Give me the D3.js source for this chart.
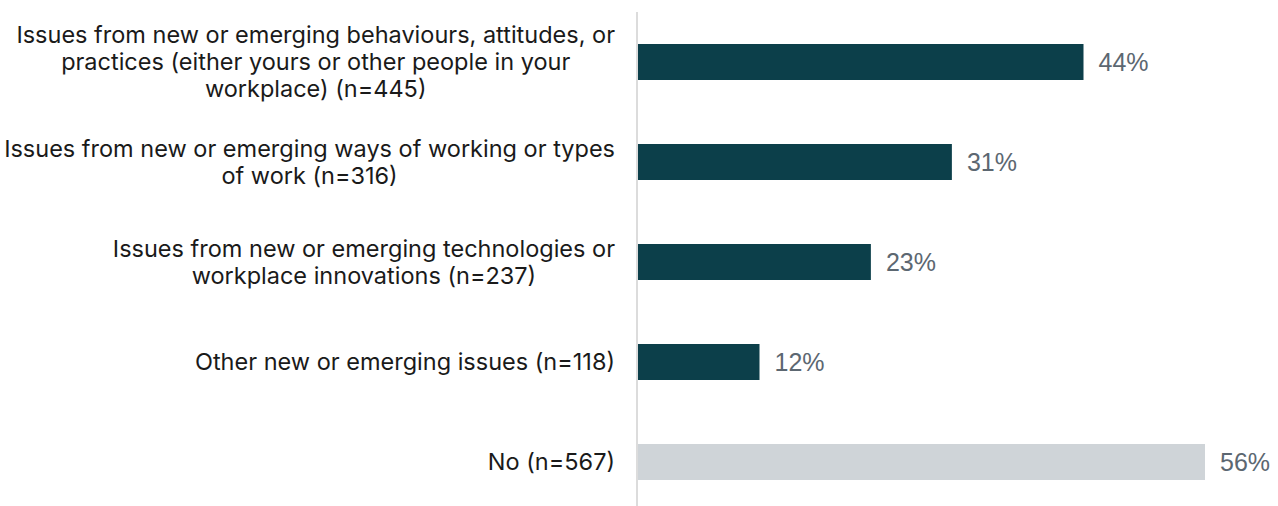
<!DOCTYPE html>
<html>
<head>
<meta charset="utf-8">
<script src="https://cdn.jsdelivr.net/npm/d3@7"></script>
<style>
  html, body { margin: 0; padding: 0; background: #ffffff; }
  svg { display: block; }
</style>
</head>
<body>
<svg id="chart" width="1278" height="506"></svg>
<script>
// Survey responses: new or emerging issues reported
const categories = [
  ["Issues from new or emerging behaviours, attitudes, or", "practices (either yours or other people in your", "workplace) (n=445)"],
  ["Issues from new or emerging ways of working or types", "of work (n=316)"],
  ["Issues from new or emerging technologies or", "workplace innovations (n=237)"],
  ["Other new or emerging issues (n=118)"],
  ["No (n=567)"]
];
const values = [44, 31, 23, 12, 56];
const groups = ["yes", "yes", "yes", "yes", "no"];
const valueLabels = values.map(v => v + "%");

const width = 1278, height = 506;
const axisX = 638;          // baseline position of the bars
const labelRight = 615;     // right edge of the category label blocks
const catFont = "Inter, 'Liberation Sans', Arial, sans-serif";
const valFont = "'Liberation Sans', Arial, sans-serif";

const svg = d3.select("#chart");

const idx = d3.range(values.length);

const y = d3.scaleBand()
  .domain(idx)
  .range([12, 512])
  .paddingInner(0.64)
  .paddingOuter(0.32);

const x = d3.scaleLinear()
  .domain([0, d3.max(values)])
  .range([axisX, axisX + 567]);

const color = d3.scaleOrdinal()
  .domain(["yes", "no"])
  .range(["#0c3f4a", "#cfd4d8"]);

// bars
svg.append("g")
  .selectAll("rect")
  .data(idx)
  .join("rect")
  .attr("x", x(0))
  .attr("y", i => y(i))
  .attr("width", i => x(values[i]) - x(0))
  .attr("height", y.bandwidth())
  .attr("fill", i => color(groups[i]));

// vertical baseline
svg.append("line")
  .attr("x1", axisX - 1)
  .attr("x2", axisX - 1)
  .attr("y1", 12)
  .attr("y2", height)
  .attr("stroke", "#dcdcdc")
  .attr("stroke-width", 2);

// value labels
svg.append("g")
  .selectAll("text")
  .data(idx)
  .join("text")
  .attr("x", i => x(values[i]) + 15)
  .attr("y", i => y(i) + y.bandwidth() / 2)
  .attr("dy", "0.36em")
  .attr("font-family", valFont)
  .attr("font-size", 25)
  .attr("fill", "#5c6771")
  .text(i => valueLabels[i]);

// category labels: each block right-aligned, lines centred within the block
const lineH = 27;
const catG = svg.append("g");
idx.forEach(i => {
  const lines = categories[i];
  const cy = y(i) + y.bandwidth() / 2;
  const t = catG.append("text")
    .attr("font-family", catFont)
    .attr("font-size", 23.5)
    .attr("fill", "#1a1a1a")
    .attr("text-anchor", "middle");
  const spans = lines.map((ln, k) =>
    t.append("tspan")
      .attr("y", cy + (k - (lines.length - 1) / 2) * lineH)
      .attr("dy", "0.35em")
      .text(ln)
  );
  const maxW = d3.max(spans, s => s.node().getComputedTextLength());
  spans.forEach(s => s.attr("x", labelRight - maxW / 2));
});
</script>
</body>
</html>
